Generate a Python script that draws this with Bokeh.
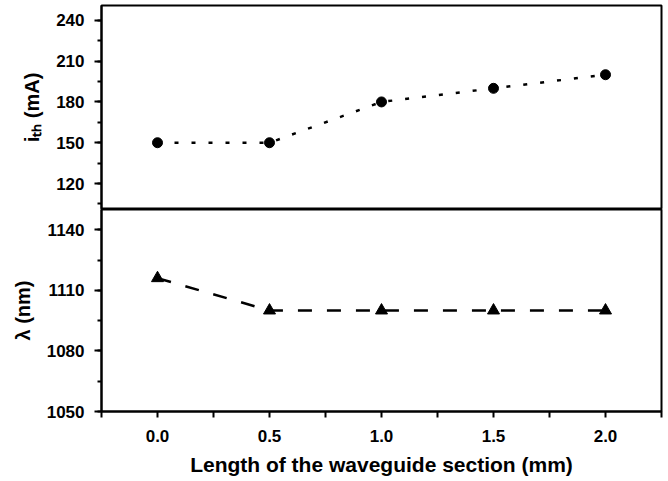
from bokeh.plotting import figure
from bokeh.layouts import column
from bokeh.models import Range1d, SingleIntervalTicker
from bokeh.embed import file_html
from bokeh.resources import INLINE

# data
length_mm = [0.0, 0.5, 1.0, 1.5, 2.0]
ith_mA = [150, 150, 180, 190, 200]
wavelength_nm = [1116, 1100, 1100, 1100, 1100]
x_ticks = [0.0, 0.5, 1.0, 1.5, 2.0]

FONT = "Liberation Sans"
xr = Range1d(-0.25, 2.25)


def style(p, ylabel):
    p.outline_line_color = "black"
    p.outline_line_width = 2
    p.xgrid.visible = False
    p.ygrid.visible = False
    p.background_fill_color = "white"
    p.border_fill_color = "white"
    for ax in p.yaxis + p.xaxis:
        ax.axis_line_width = 2
        ax.major_tick_line_width = 2
        ax.minor_tick_line_width = 2
        ax.major_tick_in = 0
        ax.major_tick_out = 7
        ax.minor_tick_in = 0
        ax.minor_tick_out = 4
        ax.major_label_text_font = FONT
        ax.major_label_text_font_style = "bold"
        ax.major_label_text_font_size = "17px"
        ax.major_label_text_color = "black"
        ax.major_label_standoff = 10
        ax.axis_label_text_font = FONT
        ax.axis_label_text_font_style = "bold"
        ax.axis_label_text_font_size = "20px"
        ax.axis_label_text_color = "black"
        ax.axis_label_standoff = 10
    p.yaxis.axis_label = ylabel


# top panel: threshold current
p1 = figure(width=665, height=209, x_range=xr, y_range=Range1d(100.9, 250.9),
            output_backend="svg", toolbar_location=None,
            min_border_left=101, min_border_right=4, min_border_top=5,
            min_border_bottom=0)
p1.yaxis.ticker = SingleIntervalTicker(interval=30, num_minor_ticks=2)
p1.xaxis.visible = False
style(p1, "i\u209c\u2095 (mA)")
p1.line(length_mm, ith_mA, line_color="black", line_width=2.5, line_dash="4 13")
p1.scatter(length_mm, ith_mA, marker="circle", size=10, color="black")

# bottom panel: wavelength
p2 = figure(width=665, height=269, x_range=xr, y_range=Range1d(1050, 1150),
            output_backend="svg", toolbar_location=None,
            min_border_left=101, min_border_right=4, min_border_top=0,
            min_border_bottom=66)
p2.yaxis.ticker = SingleIntervalTicker(interval=30, num_minor_ticks=2)
p2.xaxis.ticker = x_ticks
p2.xaxis.ticker.minor_ticks = [-0.25, 0.25, 0.75, 1.25, 1.75, 2.25]
p2.xaxis.major_label_overrides = {v: f"{v:.1f}" for v in x_ticks}
style(p2, "\u03bb (nm)")
p2.xaxis.axis_label = "Length of the waveguide section (mm)"
p2.xaxis.axis_label_text_font_size = "21px"
p2.xaxis.major_tick_out = 6
p2.xaxis.minor_tick_out = 6
p2.xaxis.major_label_standoff = 12
p2.xaxis.axis_label_standoff = 8
p2.line(length_mm, wavelength_nm, line_color="black", line_width=2.5, line_dash="14 15")
p2.scatter(length_mm, wavelength_nm, marker="triangle", size=12, color="black")

layout = column(p1, p2, spacing=0)
open("out.html", "w").write(file_html(layout, INLINE))
